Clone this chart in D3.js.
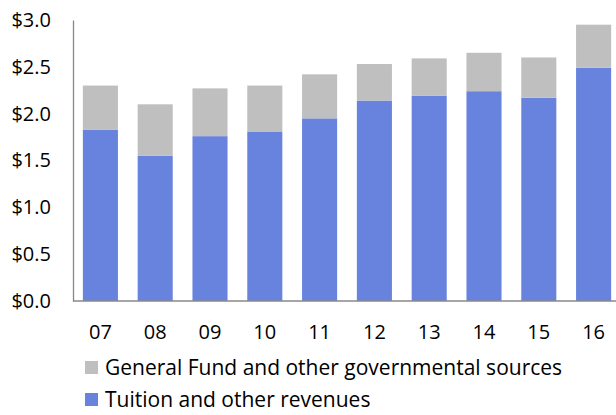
<!DOCTYPE html>
<html>
<head>
<meta charset="utf-8">
<script src="https://cdn.jsdelivr.net/npm/d3@7"></script>
<style>
  body { margin: 0; background: #fff; overflow: hidden; }
  text { font-family: "Open Sans", sans-serif; fill: #000; }
</style>
</head>
<body>
<div id="chart"></div>
<script>
const years = ['07', '08', '09', '10', '11', '12', '13', '14', '15', '16'];
const tuition = [1.83, 1.55, 1.76, 1.81, 1.95, 2.14, 2.19, 2.24, 2.17, 2.49];
const generalFund = [0.47, 0.55, 0.51, 0.49, 0.47, 0.39, 0.40, 0.41, 0.43, 0.46];
const yTicks = [0, 0.5, 1.0, 1.5, 2.0, 2.5, 3.0];
const seriesNames = ['General Fund and other governmental sources', 'Tuition and other revenues'];
const colors = { tuition: '#6783DE', general: '#BFBFBF' };

const svgWidth = 616;
const svgHeight = 415;

const svg = d3.select('#chart')
  .append('svg')
  .attr('width', svgWidth)
  .attr('height', svgHeight);

const x = d3.scaleBand()
  .domain(years)
  .range([73, 621])
  .paddingInner(0.36)
  .paddingOuter(0.18);

const y = d3.scaleLinear()
  .domain([0, 3])
  .range([301, 20]);

// barras apiladas
const stacked = years.map((yr, i) => ({ yr, t: tuition[i], g: generalFund[i] }));

svg.selectAll('.bar-t')
  .data(stacked)
  .enter().append('rect')
  .attr('class', 'bar-t')
  .attr('x', d => x(d.yr))
  .attr('y', d => y(d.t))
  .attr('width', x.bandwidth())
  .attr('height', d => y(0) - y(d.t))
  .attr('fill', colors.tuition);

svg.selectAll('.bar-g')
  .data(stacked)
  .enter().append('rect')
  .attr('class', 'bar-g')
  .attr('x', d => x(d.yr))
  .attr('y', d => y(d.t + d.g))
  .attr('width', x.bandwidth())
  .attr('height', d => y(d.t) - y(d.t + d.g))
  .attr('fill', colors.general);

// eje Y
const yAxis = svg.append('g')
  .attr('transform', 'translate(73,0)')
  .call(d3.axisLeft(y).tickValues(yTicks).tickSize(0).tickPadding(22)
    .tickFormat(d => '$' + d3.format('.1f')(d)));
yAxis.select('.domain').attr('stroke', '#888').attr('stroke-width', 1.3);
yAxis.selectAll('text').style('font-size', '20px').attr('fill', '#000');

// eje X
const xAxis = svg.append('g')
  .attr('transform', `translate(0,${y(0)})`)
  .call(d3.axisBottom(x).tickSize(0).tickPadding(24));
xAxis.select('.domain').attr('d', `M73,0H616`).attr('stroke', '#888').attr('stroke-width', 1.3);
xAxis.selectAll('text').style('font-size', '20px').attr('fill', '#000');

// leyenda
const legend = svg.selectAll('.legend')
  .data([
    { name: seriesNames[0], color: colors.general },
    { name: seriesNames[1], color: colors.tuition }
  ])
  .enter().append('g')
  .attr('class', 'legend')
  .attr('transform', (d, i) => `translate(85,${361 + i * 32})`);

legend.append('rect')
  .attr('width', 13)
  .attr('height', 13)
  .attr('fill', d => d.color);

legend.append('text')
  .attr('x', 20)
  .attr('y', 14)
  .style('font-size', '21px')
  .text(d => d.name);
</script>
</body>
</html>
